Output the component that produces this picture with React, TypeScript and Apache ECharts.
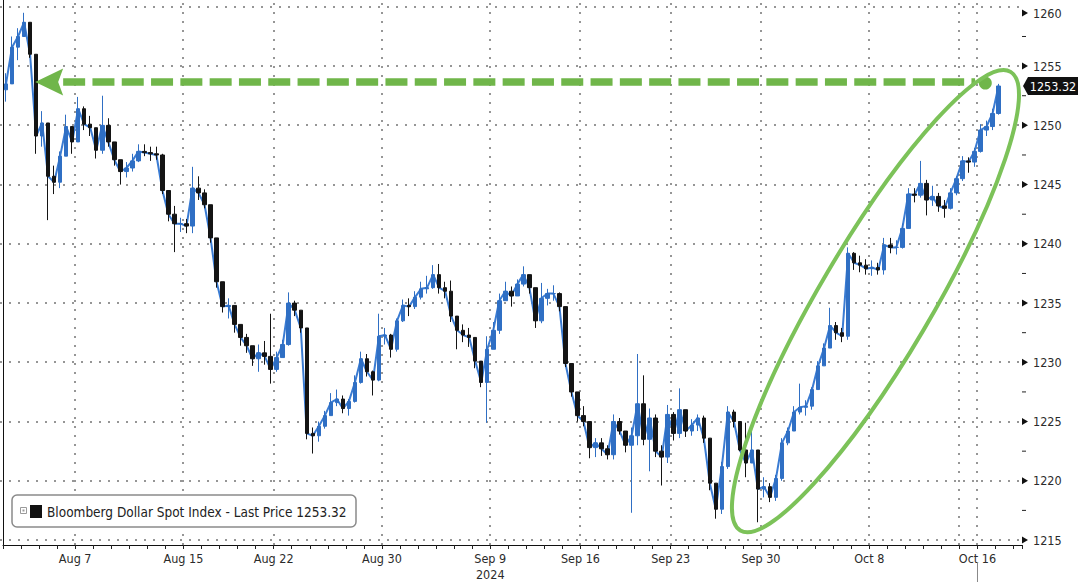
import React, { useEffect, useRef } from 'react';
import * as echarts from 'echarts';

// ---- Data: Bloomberg Dollar Spot Index, ~8-hour bars (3 per trading day), Aug 1 – Oct 16, 2024 ----
const closes = [
  1253.5, 1256.6, 1257.5, 1258.7, 1256.0, 1249.1, 1250.2, 1245.7, 1245.2, 1247.4,
  1249.9, 1248.6, 1251.4, 1250.1, 1249.8, 1247.9, 1250.0, 1248.6, 1247.1, 1246.1,
  1246.4, 1247.0, 1247.8, 1247.7, 1247.6, 1247.5, 1244.5, 1242.5, 1241.7, 1241.7,
  1241.5, 1244.7, 1244.3, 1243.3, 1240.5, 1236.8, 1234.7, 1234.8, 1233.2, 1232.1,
  1231.4, 1230.3, 1230.8, 1230.5, 1229.4, 1230.4, 1231.5, 1235.0, 1234.4, 1232.9,
  1224.0, 1223.8, 1224.6, 1225.5, 1226.6, 1226.9, 1226.1, 1226.7, 1228.3, 1230.3,
  1229.2, 1228.5, 1232.2, 1232.3, 1231.1, 1233.5, 1234.8, 1234.7, 1235.5, 1236.2,
  1236.3, 1237.4, 1236.3, 1236.0, 1233.9, 1232.7, 1232.3, 1232.1, 1230.1, 1228.3,
  1231.1, 1232.7, 1235.2, 1236.0, 1235.6, 1236.6, 1237.4, 1236.3, 1233.5, 1235.4,
  1235.8, 1235.8, 1234.7, 1229.9, 1227.5, 1225.5, 1225.0, 1222.8, 1223.2, 1222.7,
  1222.2, 1225.0, 1224.2, 1223.0, 1223.8, 1226.5, 1223.5, 1225.3, 1222.5, 1222.0,
  1225.6, 1224.0, 1226.0, 1224.2, 1224.7, 1225.3, 1223.6, 1219.8, 1217.6, 1221.2,
  1225.8, 1225.0, 1222.6, 1221.5, 1222.6, 1219.3, 1219.5, 1218.6, 1220.2, 1223.2,
  1224.2, 1225.8, 1226.2, 1226.3, 1227.7, 1229.7, 1231.2, 1233.1, 1232.5, 1232.2,
  1239.2, 1238.4, 1238.2, 1237.9, 1238.0, 1237.8, 1239.9, 1239.7, 1239.7, 1241.3,
  1244.2, 1244.1, 1245.1, 1243.7, 1244.0, 1243.2, 1243.0, 1244.3, 1245.5, 1247.0,
  1246.9, 1247.8, 1249.6, 1249.9, 1251.0, 1253.32,
];
const highs = [
  1254.4, 1257.5, 1258.2, 1259.5, 1258.3, 1255.9, 1251.2, 1250.1, 1246.6, 1247.8,
  1250.9, 1249.9, 1252.4, 1251.6, 1250.8, 1249.6, 1252.5, 1250.6, 1248.6, 1247.1,
  1246.9, 1247.6, 1248.4, 1248.4, 1248.2, 1248.2, 1247.6, 1243.9, 1243.2, 1242.2,
  1242.1, 1246.5, 1245.7, 1244.6, 1243.1, 1240.2, 1236.3, 1235.4, 1234.4, 1232.9,
  1232.4, 1231.4, 1231.5, 1231.8, 1234.1, 1230.9, 1231.9, 1235.9, 1235.2, 1234.2,
  1232.9, 1224.5, 1225.0, 1225.9, 1227.4, 1227.7, 1227.2, 1226.9, 1228.9, 1230.9,
  1230.7, 1229.3, 1234.1, 1232.9, 1232.4, 1233.7, 1235.3, 1235.4, 1236.0, 1236.8,
  1237.3, 1238.2, 1238.3, 1236.8, 1236.9, 1233.9, 1233.2, 1232.9, 1231.9, 1229.9,
  1232.2, 1233.4, 1235.8, 1236.8, 1236.4, 1237.0, 1238.1, 1237.4, 1236.2, 1236.7,
  1236.2, 1236.5, 1235.9, 1234.7, 1229.9, 1227.5, 1226.3, 1224.8, 1223.6, 1223.6,
  1223.0, 1225.6, 1225.3, 1224.0, 1224.5, 1230.7, 1228.9, 1226.1, 1225.6, 1223.0,
  1226.4, 1225.8, 1227.8, 1226.0, 1225.2, 1225.6, 1225.5, 1222.0, 1218.8, 1221.6,
  1226.3, 1226.0, 1224.8, 1224.9, 1224.2, 1222.0, 1220.3, 1219.8, 1220.5, 1223.6,
  1224.5, 1226.3, 1228.2, 1226.8, 1227.9, 1230.1, 1231.6, 1234.6, 1233.4, 1232.9,
  1239.7, 1239.3, 1239.0, 1238.7, 1238.6, 1238.4, 1240.5, 1240.5, 1240.3, 1241.7,
  1244.7, 1244.7, 1247.0, 1245.4, 1244.9, 1244.3, 1243.7, 1244.7, 1245.7, 1247.4,
  1247.3, 1248.1, 1250.1, 1250.4, 1251.4, 1253.5,
];
const lows = [
  1252.0, 1253.9, 1255.5, 1257.8, 1255.7, 1247.6, 1248.2, 1242.0, 1244.2, 1244.7,
  1247.6, 1247.6, 1248.8, 1249.6, 1249.1, 1247.2, 1247.6, 1248.2, 1246.6, 1245.0,
  1245.6, 1246.1, 1246.9, 1247.4, 1247.0, 1247.1, 1244.2, 1241.9, 1239.3, 1241.0,
  1240.9, 1240.9, 1243.7, 1243.0, 1240.1, 1236.3, 1234.2, 1233.7, 1232.5, 1231.4,
  1230.8, 1229.7, 1229.2, 1229.8, 1228.2, 1229.2, 1230.5, 1231.4, 1233.9, 1232.5,
  1223.5, 1222.3, 1223.3, 1224.4, 1225.6, 1226.3, 1225.7, 1225.5, 1226.6, 1228.2,
  1228.8, 1227.2, 1228.4, 1231.5, 1230.4, 1230.9, 1233.4, 1233.9, 1234.5, 1235.3,
  1235.8, 1236.2, 1235.8, 1235.4, 1233.4, 1231.1, 1231.7, 1231.3, 1229.5, 1227.9,
  1224.9, 1231.4, 1232.4, 1235.2, 1234.7, 1235.6, 1236.4, 1235.8, 1232.9, 1233.3,
  1234.8, 1235.2, 1234.3, 1229.6, 1227.1, 1225.0, 1224.6, 1221.9, 1222.0, 1222.1,
  1221.8, 1221.8, 1223.9, 1222.4, 1217.3, 1223.0, 1223.0, 1220.8, 1222.0, 1219.6,
  1221.5, 1223.4, 1223.6, 1223.7, 1223.8, 1224.2, 1223.2, 1219.2, 1216.8, 1217.2,
  1221.0, 1224.5, 1222.5, 1220.3, 1221.8, 1216.5, 1218.6, 1218.2, 1218.3, 1220.0,
  1223.0, 1224.3, 1225.6, 1225.5, 1226.0, 1227.7, 1229.7, 1231.2, 1231.9, 1231.7,
  1231.9, 1237.8, 1237.6, 1237.4, 1237.3, 1237.4, 1237.4, 1239.2, 1239.1, 1239.6,
  1241.3, 1243.5, 1243.9, 1242.4, 1243.2, 1242.7, 1242.2, 1242.9, 1244.1, 1245.3,
  1246.0, 1246.5, 1247.7, 1249.1, 1249.6, 1250.9,
];
const firstOpen = 1253.0;

// x axis: one unit = one 8-hour bar; a trading day = 3 units, Aug 1 starts at 0
const tickBars = [12, 30, 45, 63, 81, 96, 111, 126, 144, 162];
const tickLabels = ['Aug 7', 'Aug 15', 'Aug 22', 'Aug 30', 'Sep 9\n2024', 'Sep 16', 'Sep 23', 'Sep 30', 'Oct 8', 'Oct 16'];
const extraGridBars = [159];
const xMax = 169.4;

const yMin = 1214.58;
const yMax = 1260.58;
const yLabelValues = [1215, 1220, 1225, 1230, 1235, 1240, 1245, 1250, 1255, 1260];

const seriesName = 'Bloomberg Dollar Spot Index - Last Price';
const lastPrice = 1253.32;
const arrowLevel = 1253.65;

const FONT = "'DejaVu Sans Condensed', 'DejaVu Sans', sans-serif";
const GREEN = '#70b64a';
const GREEN_RING = '#7cc259';
const GRID_COLOR = '#969696';

export default function App() {
  const ref = useRef<HTMLDivElement>(null);

  useEffect(() => {
    const el = ref.current;
    if (!el) return;
    const chart = echarts.init(el, null, { renderer: 'svg' });

    const candles = closes.map((c, i) => {
      const o = i === 0 ? firstOpen : closes[i - 1];
      return [i + 0.5, o, c, Math.min(lows[i], o, c), Math.max(highs[i], o, c)];
    });
    const linePts = closes.map((c, i) => [i + 0.5, c]);
    const gridX = tickBars.concat(extraGridBars);

    chart.setOption({
      animation: false,
      backgroundColor: '#ffffff',
      grid: { left: 0, top: 0, right: 58, bottom: 32 },
      xAxis: {
        type: 'value',
        min: 0,
        max: xMax,
        interval: 3,
        axisLine: { show: true, lineStyle: { color: '#111', width: 1 } },
        axisTick: { show: true, length: 4, lineStyle: { color: '#222', width: 1 } },
        axisLabel: {
          color: '#2b2b2b',
          fontFamily: FONT,
          fontSize: 12.5,
          margin: 5,
          lineHeight: 16,
          formatter: (v: number) => {
            const r = Math.round(v);
            if (Math.abs(v - r) > 1e-6) return '';
            const k = tickBars.indexOf(r);
            return k >= 0 ? tickLabels[k] : '';
          },
        },
        splitLine: { show: false },
      },
      yAxis: {
        type: 'value',
        position: 'right',
        min: yMin,
        max: yMax,
        splitNumber: 9,
        axisLine: { show: true, lineStyle: { color: '#111', width: 1 } },
        axisTick: { show: false },
        axisLabel: {
          color: '#2b2b2b',
          fontFamily: FONT,
          fontSize: 12.5,
          margin: 11,
          formatter: (v: number) => {
            const r = Math.round(v);
            if (Math.abs(v - r) > 1e-6 || r % 5 !== 0 || r === 1260) return '';
            return String(r);
          },
        },
        splitLine: { show: false },
      },
      series: [
        {
          name: seriesName + ' line',
          type: 'line',
          data: linePts,
          symbol: 'none',
          z: 2,
          lineStyle: { color: '#3a7bd2', width: 2 },
        },
        {
          name: seriesName,
          type: 'candlestick',
          data: candles,
          encode: { x: 0, y: [1, 2, 3, 4] },
          barWidth: 4,
          z: 3,
          itemStyle: {
            color: '#2f6fc4',
            color0: '#141414',
            borderColor: '#2f6fc4',
            borderColor0: '#141414',
            borderWidth: 1,
          },
        },
      ],
    });

    const P = (x: number, y: number) => chart.convertToPixel({ xAxisIndex: 0, yAxisIndex: 0 }, [x, y]) as number[];
    const axisX = P(xMax, yMin)[0];
    const bottomY = P(0, yMin)[1];
    const topY = P(0, yMax)[1];

    const elements: any[] = [];
    const dotStyle = { stroke: GRID_COLOR, lineWidth: 2, lineDash: [2, 7] };

    // dotted grid (behind the series)
    gridX.forEach((b) => {
      const xx = Math.round(P(b, yMin)[0]);
      elements.push({
        type: 'line',
        silent: true,
        shape: { x1: xx, y1: bottomY, x2: xx, y2: topY },
        style: dotStyle,
        z: 0,
      });
    });
    yLabelValues.forEach((v) => {
      const yy = Math.round(P(0, v)[1]);
      elements.push({
        type: 'line',
        silent: true,
        shape: { x1: 0, y1: yy, x2: axisX, y2: yy },
        style: dotStyle,
        z: 0,
      });
    });

    // y-axis tick markers (triangles) and minor ticks
    yLabelValues.forEach((v) => {
      const yy = Math.max(P(0, v)[1], 13);
      elements.push({
        type: 'polygon',
        shape: { points: [[axisX, yy - 3.5], [axisX + 6, yy], [axisX, yy + 3.5]] },
        style: { fill: '#111' },
        z: 20,
      });
      if (v < 1260) {
        const ym = P(0, v + 2.5)[1];
        elements.push({
          type: 'line',
          shape: { x1: axisX, y1: ym, x2: axisX + 4, y2: ym },
          style: { stroke: '#222', lineWidth: 1 },
          z: 20,
        });
      }
    });
    // top label (kept inside the picture)
    elements.push({
      type: 'text',
      x: axisX + 11,
      y: 13,
      style: { text: '1260', fill: '#2b2b2b', font: `12.5px ${FONT}`, verticalAlign: 'middle', align: 'left' },
      z: 20,
    });

    // last price tag
    const yp = P(0, lastPrice)[1];
    elements.push({
      type: 'polygon',
      shape: { points: [[axisX + 1, yp], [axisX + 6, yp - 9], [1078, yp - 9], [1078, yp + 9], [axisX + 6, yp + 9]] },
      style: { fill: '#111' },
      z: 30,
    });
    elements.push({
      type: 'text',
      x: (axisX + 6 + 1078) / 2,
      y: yp,
      style: { text: lastPrice.toFixed(2), fill: '#fff', font: `12.5px ${FONT}`, align: 'center', verticalAlign: 'middle' },
      z: 31,
    });

    // Oct 16 marker below the axis
    const xo = P(162, yMin)[0];
    elements.push({
      type: 'line',
      shape: { x1: xo, y1: bottomY + 17, x2: xo, y2: 582 },
      style: { stroke: '#888', lineWidth: 1 },
      z: 20,
    });

    // legend box
    elements.push({
      type: 'rect',
      shape: { x: 12, y: 495, width: 344, height: 32, r: 5 },
      style: { fill: '#fff', stroke: '#8a8a8a', lineWidth: 1.5 },
      z: 40,
    });
    elements.push({
      type: 'rect',
      shape: { x: 20.5, y: 507.5, width: 6, height: 6 },
      style: { fill: '#fff', stroke: '#9a9a9a', lineWidth: 1 },
      z: 41,
    });
    elements.push({
      type: 'rect',
      shape: { x: 22.5, y: 509.5, width: 2, height: 2 },
      style: { fill: '#9a9a9a' },
      z: 41,
    });
    elements.push({
      type: 'rect',
      shape: { x: 30, y: 505, width: 12, height: 13 },
      style: { fill: '#111' },
      z: 41,
    });
    elements.push({
      type: 'text',
      x: 47,
      y: 512,
      style: {
        text: `${seriesName} ${lastPrice.toFixed(2)}`,
        fill: '#222',
        font: `13.5px ${FONT}`,
        verticalAlign: 'middle',
        align: 'left',
      },
      z: 41,
    });

    // green dashed arrow back to the early-August level
    const ya = P(0, arrowLevel)[1];
    const xStart = P(10, arrowLevel)[0];
    const xEnd = P(161.6, arrowLevel)[0];
    elements.push({
      type: 'line',
      shape: { x1: xStart, y1: ya, x2: xEnd, y2: ya },
      style: { stroke: GREEN, lineWidth: 7.5, lineDash: [22, 7.3] },
      z: 50,
    });
    elements.push({
      type: 'polygon',
      shape: { points: [[xStart - 28, ya], [xStart, ya - 13.5], [xStart - 5, ya], [xStart, ya + 13.5]] },
      style: { fill: GREEN },
      z: 50,
    });
    elements.push({
      type: 'circle',
      shape: { cx: P(163.3, arrowLevel)[0], cy: ya + 1, r: 6.5 },
      style: { fill: GREEN },
      z: 50,
    });

    // green ellipse around the October rally
    const c = P(145.04, 1235.16);
    elements.push({
      type: 'ellipse',
      x: c[0],
      y: c[1],
      rotation: (59.5 * Math.PI) / 180,
      shape: { cx: 0, cy: 0, rx: 266, ry: 56 },
      style: { fill: 'none', stroke: GREEN_RING, lineWidth: 4 },
      z: 50,
    });

    chart.setOption({ graphic: { elements } });

    return () => chart.dispose();
  }, []);

  return (
    <div
      ref={ref}
      style={{ position: 'fixed', left: 0, top: 0, width: 1080, height: 582, background: '#fff' }}
    />
  );
}
